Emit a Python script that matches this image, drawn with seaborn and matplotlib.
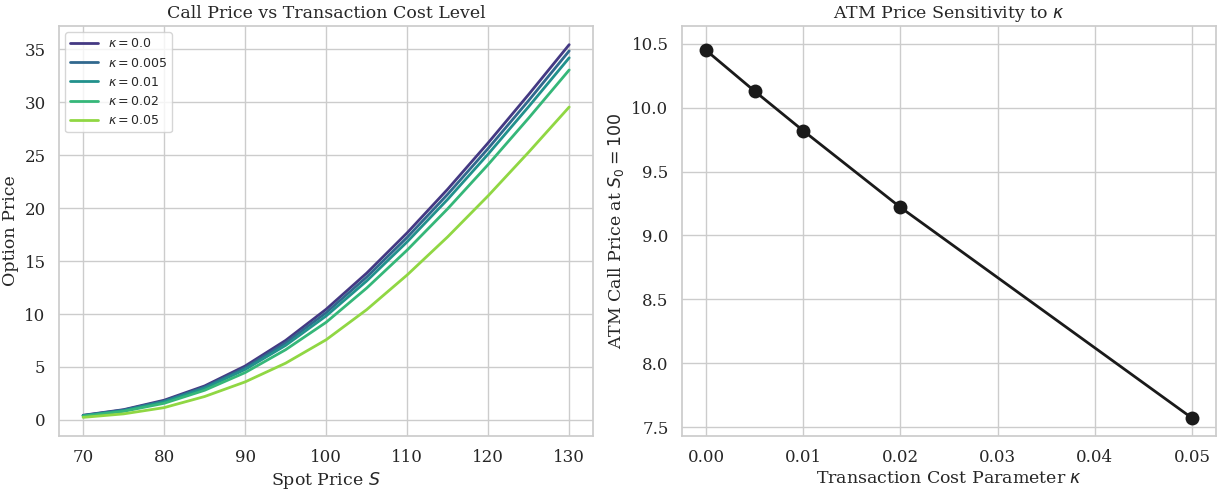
import numpy as np
import pandas as pd
import matplotlib
matplotlib.use("Agg")
import matplotlib.pyplot as plt
import seaborn as sns

# Spot grid and call prices for each transaction cost level
spot = [70, 75, 80, 85, 90, 95, 100, 105, 110, 115, 120, 125, 130]
price_k0 = [0.44, 0.97, 1.86, 3.21, 5.09, 7.51, 10.45, 13.86, 17.67, 21.79, 26.17, 30.74, 35.44]
price_k0005 = [0.42, 0.93, 1.78, 3.10, 4.92, 7.27, 10.13, 13.49, 17.24, 21.31, 25.64, 30.17, 34.85]
price_k001 = [0.40, 0.88, 1.71, 2.99, 4.76, 7.04, 9.82, 13.12, 16.82, 20.83, 25.11, 29.59, 34.20]
price_k002 = [0.36, 0.81, 1.57, 2.80, 4.47, 6.63, 9.22, 12.45, 16.04, 19.94, 24.12, 28.51, 33.05]
price_k005 = [0.24, 0.57, 1.16, 2.21, 3.59, 5.36, 7.57, 10.41, 13.69, 17.29, 21.17, 25.29, 29.55]

kappa_labels = ["0.0", "0.005", "0.01", "0.02", "0.05"]

# ATM (S0 = 100) price versus kappa
kappas = [0.0, 0.005, 0.01, 0.02, 0.05]
atm_price = [10.45, 10.13, 9.82, 9.22, 7.57]

sns.set_theme(style="whitegrid")
plt.rcParams["font.family"] = ["DejaVu Serif"]

series = [price_k0, price_k0005, price_k001, price_k002, price_k005]
rows = []
for lab, vals in zip(kappa_labels, series):
    for s, v in zip(spot, vals):
        rows.append({"S": s, "price": v, "kappa": rf"$\kappa = {lab}$"})
df = pd.DataFrame(rows)
hue_order = [rf"$\kappa = {lab}$" for lab in kappa_labels]

fig, (ax1, ax2) = plt.subplots(1, 2, figsize=(12.25, 4.91), dpi=100)
fig.subplots_adjust(left=0.048, right=0.993, bottom=0.112, top=0.947, wspace=0.165)

sns.lineplot(data=df, x="S", y="price", hue="kappa", hue_order=hue_order,
             palette=sns.color_palette("viridis", 5), linewidth=2, ax=ax1)
ax1.set_title("Call Price vs Transaction Cost Level", fontsize=12.5)
ax1.set_xlabel("Spot Price $S$", fontsize=12.5, labelpad=3)
ax1.set_ylabel("Option Price", fontsize=12.5)
ax1.tick_params(labelsize=12)
ax1.set_xticks([70, 80, 90, 100, 110, 120, 130])
ax1.legend(loc="upper left", prop={"family": "DejaVu Sans", "size": 9},
           title=None, handlelength=2.2)

sns.lineplot(x=kappas, y=atm_price, marker="o", color="#1a1a1a", linewidth=2,
             markersize=10, markeredgewidth=0, ax=ax2)
ax2.set_title(r"ATM Price Sensitivity to $\kappa$", fontsize=12.5)
ax2.set_xlabel(r"Transaction Cost Parameter $\kappa$", fontsize=12.5, labelpad=3)
ax2.set_ylabel(r"ATM Call Price at $S_0 = 100$", fontsize=12.5)
ax2.tick_params(labelsize=12)
ax2.set_ylim(7.43, 10.64)

fig.savefig("out.png", dpi=100)
